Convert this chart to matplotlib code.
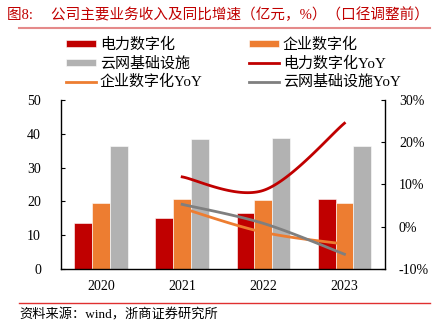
import numpy as np
import matplotlib
matplotlib.use("Agg")
import matplotlib.pyplot as plt

plt.rcParams['font.family'] = ['Liberation Serif', 'Noto Sans CJK SC']
plt.rcParams['axes.unicode_minus'] = False

years = ['2020', '2021', '2022', '2023']
power = [13.5, 15.2, 16.5, 20.6]
enterprise = [19.6, 20.7, 20.4, 19.5]
cloud = [36.5, 38.4, 38.8, 36.3]
yoy_years = ['2021', '2022', '2023']
power_yoy = [11.8, 8.6, 24.5]
enterprise_yoy = [4.4, -1.3, -4.1]
cloud_yoy = [5.3, 0.8, -6.5]

RED = '#C00000'
ORANGE = '#ED7D31'
GRAY = '#B2B2B2'
DGRAY = '#7F7F7F'


def smooth(xs, ys, n=40):
    xs = np.asarray(xs, float)
    ys = np.asarray(ys, float)
    P = np.column_stack([xs, ys])
    out = []
    for i in range(len(P) - 1):
        p0 = P[i - 1] if i > 0 else P[i]
        p1 = P[i]
        p2 = P[i + 1]
        p3 = P[i + 2] if i + 2 < len(P) else P[i + 1]
        c1 = p1 + (p2 - p0) / 6.0
        c2 = p2 - (p3 - p1) / 6.0
        t = np.linspace(0, 1, n)[:, None]
        seg = (1 - t) ** 3 * p1 + 3 * (1 - t) ** 2 * t * c1 + 3 * (1 - t) * t ** 2 * c2 + t ** 3 * p2
        out.append(seg if i == 0 else seg[1:])
    s = np.vstack(out)
    return s[:, 0], s[:, 1]


fig = plt.figure(figsize=(4.4, 3.36), dpi=100)
ax = fig.add_axes([0.1375, 0.1994, 0.7375, 0.503])
ax2 = ax.twinx()

x = np.arange(len(years))
w = 0.22
b1 = ax.bar(x - w, power, w, color=RED, edgecolor='white', linewidth=0.4, label='电力数字化')
b2 = ax.bar(x, enterprise, w, color=ORANGE, edgecolor='white', linewidth=0.4, label='企业数字化')
b3 = ax.bar(x + w, cloud, w, color=GRAY, edgecolor='white', linewidth=0.4, label='云网基础设施')

xi = np.array([years.index(y) for y in yoy_years])
sx, sy = smooth(xi, power_yoy)
l1, = ax2.plot(sx, sy, color=RED, lw=2, label='电力数字化YoY')
sx, sy = smooth(xi, enterprise_yoy)
l2, = ax2.plot(sx, sy, color=ORANGE, lw=2, label='企业数字化YoY')
sx, sy = smooth(xi, cloud_yoy)
l3, = ax2.plot(sx, sy, color=DGRAY, lw=2, label='云网基础设施YoY')

ax.set_xlim(-0.5, 3.5)
ax.set_ylim(0, 50)
ax.set_yticks([0, 10, 20, 30, 40, 50])
ax2.set_ylim(-10, 30)
ax2.set_yticks([-10, 0, 10, 20, 30])
ax2.set_yticklabels(['-10%', '0%', '10%', '20%', '30%'])
ax.set_xticks(x)
ax.set_xticklabels(years)

for a in (ax, ax2):
    a.spines['top'].set_visible(False)
    for s in a.spines.values():
        s.set_linewidth(1.0)
        s.set_color('black')
ax.spines['right'].set_visible(False)
ax2.spines['left'].set_visible(False)
ax2.spines['bottom'].set_visible(False)
ax.tick_params(axis='y', direction='in', length=3, labelsize=10, pad=14)
ax.tick_params(axis='x', length=0, labelsize=10, pad=8)
ax2.tick_params(axis='y', direction='in', length=3, labelsize=10, pad=10)

handles = [b1, b3, l2, b2, l1, l3]
labels = [h.get_label() for h in handles]
fig.legend(handles, labels, ncol=2, loc='upper left', bbox_to_anchor=(0.15, 0.888),
           frameon=False, fontsize=10.8, handlelength=2.0, handleheight=0.33,
           handletextpad=0.25, columnspacing=3.1, labelspacing=0.28, borderpad=0,
           borderaxespad=0)

fig.text(0.016, 0.955, '图8:     公司主要业务收入及同比增速（亿元，%）（口径调整前）',
         color=RED, fontsize=10.5, va='center', ha='left')
fig.add_artist(plt.Line2D([0.043, 0.977], [1 - 27.5 / 336] * 2, color='#E58A8A', lw=1.5))
fig.add_artist(plt.Line2D([0.043, 0.977], [1 - 302.5 / 336] * 2, color='#E03030', lw=1.0))
fig.text(0.045, 1 - 315 / 336, '资料来源：wind，浙商证券研究所', fontsize=9.5, va='center', ha='left')

fig.savefig('out.png', dpi=100)
